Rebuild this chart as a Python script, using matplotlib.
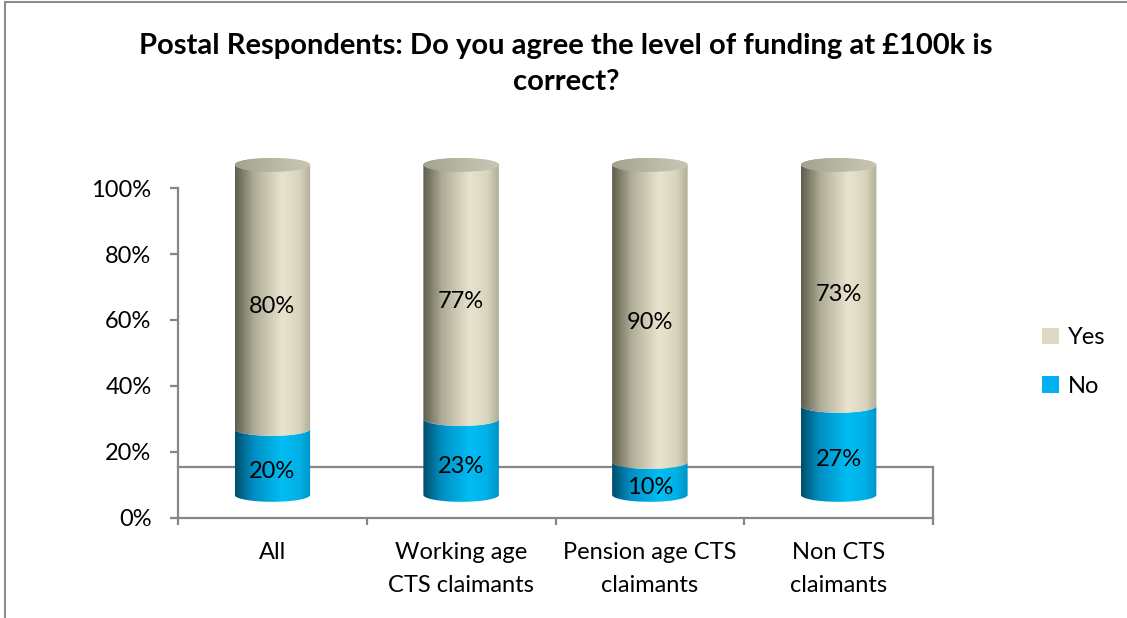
import numpy as np
import matplotlib
matplotlib.use("Agg")
import matplotlib.pyplot as plt
from matplotlib.patches import Polygon, Ellipse, Patch
from matplotlib.lines import Line2D

plt.rcParams["font.family"] = ["Lato", "DejaVu Sans"]

# data
categories = ["All", "Working age\nCTS claimants", "Pension age CTS\nclaimants", "Non CTS\nclaimants"]
no_vals = [0.20, 0.23, 0.10, 0.27]
yes_vals = [0.80, 0.77, 0.90, 0.73]
series_names = ["Yes", "No"]
title = "Postal Respondents: Do you agree the level of funding at £100k is\ncorrect?"

# style
W, H = 1127, 618
RX, RY = 0.20, 0.021        # cylinder half width (category units), ellipse half height (axis units)
BASE = 0.07                 # 3d depth offset of the cylinder bases
FLOOR = 0.155
GREY = "#868686"
yes_stops = [(0.0, "#5e5e4c"), (0.25, "#aeab96"), (0.62, "#e9e4cf"), (0.85, "#d9d4bd"), (1.0, "#b0ad98")]
no_stops = [(0.0, "#004e6c"), (0.25, "#0090c4"), (0.62, "#00bdf3"), (0.85, "#00b0e6"), (1.0, "#0094c8")]
cap_stops = [(0.0, "#a2a290"), (0.6, "#bcbba9"), (1.0, "#c8c6b3")]


def gradient(stops, n=256):
    xs = np.linspace(0, 1, n)
    pos = [s[0] for s in stops]
    cols = np.array([matplotlib.colors.to_rgb(s[1]) for s in stops])
    img = np.stack([np.interp(xs, pos, cols[:, k]) for k in range(3)], axis=-1)
    return np.repeat(img[None, :, :], 2, axis=0)


def segment(ax, cx, y0, y1, stops, front_top):
    t = np.linspace(np.pi, 2 * np.pi, 80)
    xs = list(cx + RX * np.cos(t))
    ys = list(y0 + RY * np.sin(t))
    t2 = np.linspace(2 * np.pi, np.pi, 80) if front_top else np.linspace(0, np.pi, 80)
    xs += list(cx + RX * np.cos(t2))
    ys += list(y1 + RY * np.sin(t2))
    poly = Polygon(np.column_stack([xs, ys]), closed=True, facecolor="none", edgecolor="none")
    ax.add_patch(poly)
    im = ax.imshow(gradient(stops), extent=(cx - RX, cx + RX, y0 - RY, y1 + RY),
                   aspect="auto", interpolation="bilinear", zorder=3, origin="lower")
    im.set_clip_path(poly)


fig = plt.figure(figsize=(W / 100, H / 100), dpi=100)
ax = fig.add_axes([178 / W, (H - 518) / H, 755 / W, 1.12 * 330 / H])

xpos = np.arange(len(categories))
for i, cx in enumerate(xpos):
    n, y = no_vals[i], yes_vals[i]
    segment(ax, cx, BASE, BASE + n, no_stops, True)
    segment(ax, cx, BASE + n, BASE + n + y, yes_stops, False)
    cap = Ellipse((cx, BASE + n + y), 2 * RX, 2 * RY, facecolor="none", edgecolor="none")
    ax.add_patch(cap)
    im = ax.imshow(gradient(cap_stops), extent=(cx - RX, cx + RX, BASE + n + y - RY, BASE + n + y + RY),
                   aspect="auto", interpolation="bilinear", zorder=4, origin="lower")
    im.set_clip_path(cap)
    ax.text(cx, BASE + n / 2 - 0.028, f"{n:.0%}", ha="center", va="center", fontsize=17, zorder=5)
    ax.text(cx, BASE + n + y / 2 - 0.028, f"{y:.0%}", ha="center", va="center", fontsize=17, zorder=5)

# floor of the 3d plot area
ax.plot([-0.5, 3.5], [FLOOR, FLOOR], color=GREY, lw=1.6, zorder=1, clip_on=False)
ax.plot([3.5, 3.5], [0, FLOOR], color=GREY, lw=1.6, zorder=1, clip_on=False)

ax.set_xlim(-0.5, 3.5)
ax.set_ylim(0, 1.12)
for s in ["top", "right"]:
    ax.spines[s].set_visible(False)
ax.spines["left"].set_bounds(0, 1)
for s in ["left", "bottom"]:
    ax.spines[s].set_color(GREY)
    ax.spines[s].set_linewidth(1.6)

ax.set_yticks(np.arange(0, 1.01, 0.2))
ax.set_yticklabels([f"{v:.0%}" for v in np.arange(0, 1.01, 0.2)])
ax.tick_params(axis="y", length=6, width=1.6, color=GREY, pad=13, labelsize=17)
ax.set_xticks(np.arange(-0.5, 3.6, 1.0))
ax.set_xticklabels([])
ax.set_xticks(xpos, minor=True)
ax.set_xticklabels(categories, minor=True, fontsize=17, linespacing=1.7)
ax.tick_params(axis="x", which="major", length=5, width=1.6, color=GREY)
ax.tick_params(axis="x", which="minor", length=0, pad=17)

fig.text(566 / W, 1 - 64 / H, title, ha="center", va="center", fontsize=21,
         fontweight="bold", linespacing=1.5)

handles = [Patch(facecolor="#ddd9c3", edgecolor="none"), Patch(facecolor="#00b0f0", edgecolor="none")]
fig.legend(handles, series_names, loc="center left", bbox_to_anchor=(1042 / W, 1 - 362 / H),
           frameon=False, fontsize=17, handlelength=0.7, handleheight=0.7,
           handletextpad=0.4, labelspacing=1.15, borderpad=0, borderaxespad=0)

# outer chart border (top and left visible)
fig.add_artist(Line2D([5 / W, 5 / W], [0, 1 - 2 / H], transform=fig.transFigure, color="#8c8c8c", lw=1.5))
fig.add_artist(Line2D([5 / W, 1], [1 - 2 / H, 1 - 2 / H], transform=fig.transFigure, color="#8c8c8c", lw=1.5))

fig.savefig("out.png", dpi=100, facecolor="white")
